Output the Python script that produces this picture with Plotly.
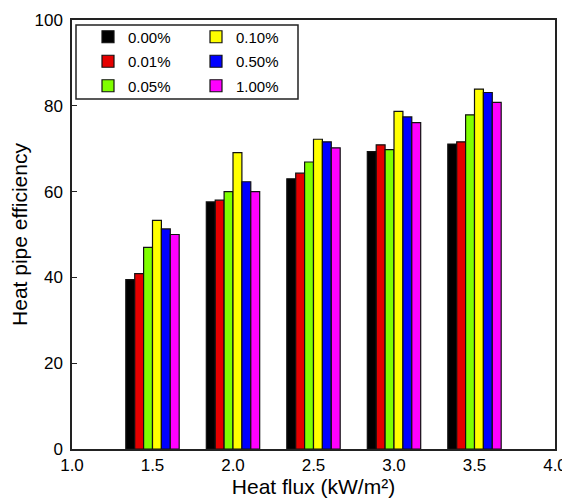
import plotly.graph_objects as go

heat_flux = [1.5, 2.0, 2.5, 3.0, 3.5]
concentrations = ["0.00%", "0.01%", "0.05%", "0.10%", "0.50%", "1.00%"]
eff_000 = [39.5, 57.6, 63.0, 69.3, 71.1]
eff_001 = [40.9, 58.0, 64.3, 70.9, 71.6]
eff_005 = [47.0, 60.0, 66.9, 69.8, 77.9]
eff_010 = [53.3, 69.1, 72.2, 78.7, 83.9]
eff_050 = [51.3, 62.3, 71.6, 77.4, 83.1]
eff_100 = [50.0, 60.0, 70.2, 76.1, 80.8]
series = [eff_000, eff_001, eff_005, eff_010, eff_050, eff_100]
colors = ["#000000", "#E50000", "#7FFF00", "#FFFF00", "#0000FF", "#FF00FF"]
legend_ids = ["legend", "legend", "legend", "legend2", "legend2", "legend2"]

FONT = "Liberation Sans, Arial, sans-serif"

fig = go.Figure()
for name, vals, col, lg in zip(concentrations, series, colors, legend_ids):
    fig.add_trace(go.Bar(
        x=heat_flux, y=vals, name=name, legend=lg, legendgroup=name,
        marker=dict(color=col, line=dict(color="#111111", width=1.2)),
    ))

# page offset (default browser body margin)
OFF = 8
W, H = 570 - OFF, 498 - OFF
# plot area in page pixels
PL, PR, PT, PB = 72, 555, 20, 449.3
ml, mr, mt, mb = PL - OFF, W - (PR - OFF), PT - OFF, H - (PB - OFF)
pw = PR - PL
ph = PB - PT

def px_x(x):
    return (x - PL) / pw

def px_y(y):
    return (PB - y) / ph

legend_common = dict(
    font=dict(family=FONT, size=15, color="#000000"),
    bgcolor="rgba(0,0,0,0)", borderwidth=0,
    xanchor="left", yanchor="top", orientation="v",
    tracegroupgap=2,
    itemclick=False, itemdoubleclick=False,
)

fig.update_layout(
    template="none",
    width=W, height=H,
    margin=dict(l=ml, r=mr, t=mt, b=mb, pad=0, autoexpand=False),
    paper_bgcolor="white", plot_bgcolor="white",
    barmode="group", bargap=0.337, bargroupgap=0,
    font=dict(family=FONT, size=17, color="#000000"),
    legend=dict(x=px_x(88), y=px_y(20.5), **legend_common),
    legend2=dict(x=px_x(196), y=px_y(20.5), **legend_common),
    xaxis=dict(
        range=[1.0, 4.0], dtick=0.5, tick0=1.0, tickformat=".1f",
        automargin=False,
        showline=True, linecolor="#222222", linewidth=1.5, mirror=True,
        ticks="", showgrid=False, zeroline=False,
        tickfont=dict(family=FONT, size=17, color="#000000"),
        title=dict(text="Heat flux (kW/m²)", standoff=13,
                   font=dict(family=FONT, size=21, color="#000000")),
    ),
    yaxis=dict(
        range=[0, 100], dtick=20,
        automargin=False,
        showline=True, linecolor="#222222", linewidth=1.5, mirror=True,
        ticks="inside", ticklen=5, tickcolor="#222222", tickwidth=1.2,
        showgrid=False, zeroline=False,
        tickfont=dict(family=FONT, size=17, color="#000000"),
        ticklabelstandoff=4,
        title=dict(text="Heat pipe efficiency", standoff=6,
                   font=dict(family=FONT, size=21, color="#000000")),
    ),
    shapes=[dict(
        type="rect", xref="paper", yref="paper",
        x0=px_x(76), x1=px_x(298), y0=px_y(99), y1=px_y(25),
        line=dict(color="#222222", width=1.5), fillcolor="rgba(0,0,0,0)",
    )],
)

fig.write_html("out.html")
